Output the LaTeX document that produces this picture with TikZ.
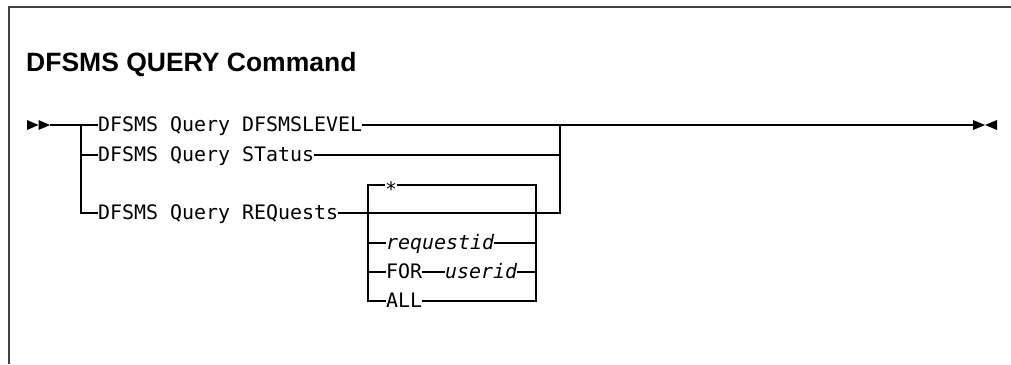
\documentclass[tikz,border=0pt]{standalone}
\usepackage{fontspec}
\setmainfont{Liberation Sans}
\setmonofont{DejaVu Sans Mono}
\usepackage{xcolor}
\usepackage{tikz}
\usetikzlibrary{positioning,calc}
\tikzset{
  frame/.style={draw=black!75, line width=1.5pt},
  rail/.style={draw, line width=1.1pt},
  kw/.style={anchor=west, inner sep=0pt, text height=12pt, text depth=0pt, font=\fontsize{19.93}{24}\selectfont\ttfamily},
  var/.style={kw, font=\fontsize{19.93}{24}\selectfont\ttfamily\itshape},
  heading/.style={anchor=base west, inner sep=0pt, font=\fontsize{26.5}{30}\selectfont\bfseries},
  tip/.style={fill=black}
}

\begin{document}
\begin{tikzpicture}[x=1pt, y=-1pt]
  \useasboundingbox (0,0) rectangle (1011,364);
  \draw[frame] (9,364) -- (9,7) -- (1011,7);

  \node[heading] (title) at (26,71) {DFSMS QUERY Command};

  % main line and branches
  \coordinate (start) at (27,125);
  \coordinate (split) at (81,125);
  \coordinate (join) at (560,125);
  \coordinate (stop) at (973,125);
  \node[kw] (lvl) at (98,125) {DFSMS Query DFSMSLEVEL};
  \node[kw] (stat) at (98,155) {DFSMS Query STatus};
  \node[kw] (req) at (98,213) {DFSMS Query REQuests};

  % REQuests operands
  \coordinate (inl) at (368,213);
  \coordinate (inr) at (536,213);
  \node[kw, text height=23pt] (star) at (385,185) {*};
  \node[var] (rid) at (386,243) {requestid};
  \node[kw] (for) at (386,272) {FOR};
  \node[var] (uid) at (445,272) {userid};
  \node[kw] (all) at (386,301) {ALL};

  \draw[rail] ($(start)+(23,0)$) -- (split) -- (lvl.west);
  \draw[rail] (split) |- (req.west);
  \draw[rail] (split |- stat.west) -- (stat.west);
  \draw[rail] (lvl.east) -- (join) -- (stop);
  \draw[rail] (stat.east) -- (stat.east -| join);
  \draw[rail] (req.east) -- (req.east -| join) -- (join);

  \draw[rail] (star.west) -| (inl) -- (inl |- all.west) -- (all.west);
  \draw[rail] (star.east) -| (inr) |- (all.east);
  \draw[rail] (inl |- rid.west) -- (rid.west);
  \draw[rail] (rid.east) -- (inr |- rid.east);
  \draw[rail] (inl |- for.west) -- (for.west);
  \draw[rail] (for.east) -- (uid.west);
  \draw[rail] (uid.east) -- (inr |- uid.east);

  % start and end marks
  \fill[tip] (start) ++(0,-5) -- ++(11.5,5) -- ++(-11.5,5) -- cycle;
  \fill[tip] (start) ++(11.5,-5) -- ++(11.5,5) -- ++(-11.5,5) -- cycle;
  \fill[tip] (stop) ++(0,-5) -- ++(12,5) -- ++(-12,5) -- cycle;
  \fill[tip] (stop) ++(24,-5) -- ++(-12,5) -- ++(12,5) -- cycle;
\end{tikzpicture}
\end{document}
